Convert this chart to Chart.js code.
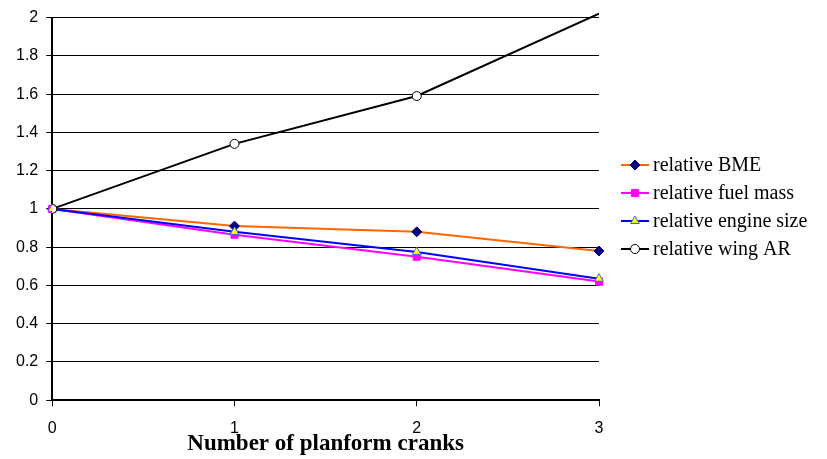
<!DOCTYPE html>
<html><head><meta charset="utf-8">
<script src="https://cdn.jsdelivr.net/npm/chart.js@4"></script>
<style>html,body{margin:0;padding:0;background:#fff}#wrap{width:827px;height:459px}</style>
</head><body><div id="wrap"><canvas id="c" width="827" height="459"></canvas></div>
<script>
const categories = ['0', '1', '2', '3'];
const relBME = [1, 0.91, 0.88, 0.78];
const relFuelMass = [1, 0.865, 0.75, 0.62];
const relEngineSize = [1, 0.88, 0.775, 0.635];
const relWingAR = [1, 1.34, 1.59, 2.02];
const seriesNames = ['relative BME', 'relative fuel mass', 'relative engine size', 'relative wing AR'];
const yTickValues = [0, 0.2, 0.4, 0.6, 0.8, 1, 1.2, 1.4, 1.6, 1.8, 2];

const styles = [
  { line: '#FF6600', ps: 'rectRot', fill: '#000080', stroke: '#000080', r: 5 },
  { line: '#FF00FF', ps: 'rect', fill: '#FF00FF', stroke: '#FF00FF', r: 5 },
  { line: '#0000FF', ps: 'triangle', fill: '#FFFF00', stroke: '#3366FF', r: 5 },
  { line: '#000000', ps: 'circle', fill: '#FFFFFF', stroke: '#000000', r: 4.5 }
];

const legendPlugin = {
  id: 'customLegend',
  afterDraw(chart) {
    const ctx = chart.ctx;
    ctx.save();
    ctx.font = '20px "Liberation Serif", serif';
    ctx.textBaseline = 'middle';
    seriesNames.forEach((name, i) => {
      const s = styles[i];
      const y = 165 + i * 28;
      ctx.strokeStyle = s.line; ctx.lineWidth = 2;
      ctx.beginPath(); ctx.moveTo(621, y); ctx.lineTo(649, y); ctx.stroke();
      ctx.fillStyle = s.fill; ctx.strokeStyle = s.stroke; ctx.lineWidth = 1;
      Chart.helpers.drawPoint(ctx, { pointStyle: s.ps, radius: s.r, borderWidth: 1 }, 635, y);
      ctx.fillStyle = '#000';
      ctx.fillText(name, 653, y + 1);
    });
    ctx.restore();
  }
};

const seriesData = [relBME, relFuelMass, relEngineSize, relWingAR];
const datasets = seriesData.map((d, i) => ({
  label: seriesNames[i], data: d, borderColor: styles[i].line, borderWidth: 2,
  pointStyle: styles[i].ps, pointRadius: i === 3 ? [styles[i].r, styles[i].r, styles[i].r, 0] : styles[i].r,
  pointBackgroundColor: styles[i].fill, pointBorderColor: styles[i].stroke, pointBorderWidth: 1,
  clip: i === 3 ? { left: 0, right: 0, bottom: 0, top: 5 } : undefined
})).reverse();

new Chart(document.getElementById('c'), {
  type: 'line',
  data: { labels: categories, datasets },
  plugins: [legendPlugin],
  options: {
    responsive: false,
    animation: false,
    layout: { padding: { top: 9, right: 228, left: 8, bottom: 1 } },
    plugins: { tooltip: { enabled: false }, legend: { display: false } },
    scales: {
      x: {
        type: 'category',
        offset: false,
        grid: { display: true, drawOnChartArea: false, drawTicks: true, tickLength: 6, color: '#000', lineWidth: 1 },
        border: { display: true, color: '#000', width: 2 },
        ticks: { color: '#000', font: { family: '"Liberation Sans", Arial, sans-serif', size: 16 }, padding: 13 },
        title: { display: true, text: 'Number of planform cranks', color: '#000', font: { family: '"Liberation Serif", serif', size: 23, weight: 'bold' }, padding: { top: -21, bottom: 0 } }
      },
      y: {
        min: 0, max: 2,
        afterBuildTicks: (axis) => { axis.ticks = yTickValues.map(v => ({ value: v })); },
        ticks: { color: '#000', font: { family: '"Liberation Sans", Arial, sans-serif', size: 16 }, padding: 8, callback: (v) => String(Math.round(v * 10) / 10) },
        grid: { color: '#000', lineWidth: 1, drawTicks: true, tickLength: 6 },
        border: { display: true, color: '#000', width: 2 }
      }
    }
  }
});
</script></body></html>
